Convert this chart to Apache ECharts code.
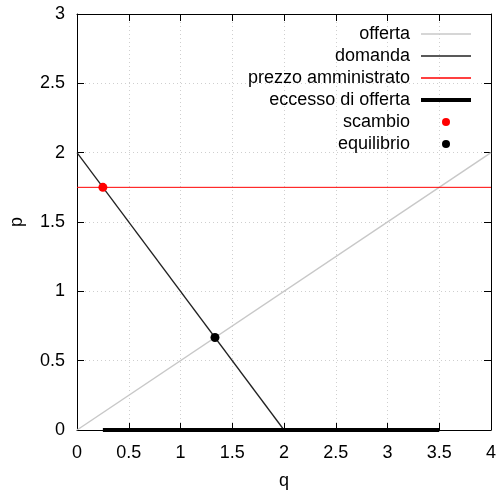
<!DOCTYPE html>
<html>
<head>
<meta charset="utf-8">
<script src="https://cdn.jsdelivr.net/npm/echarts@6/dist/echarts.min.js"></script>
<style>html,body{margin:0;padding:0;background:#fff}#c{width:501px;height:497px}</style>
</head>
<body>
<div id="c"></div>
<script>
// Data
const offerta = [[0, 0], [4, 2]];
const domanda = [[0, 2], [2, 0]];
const prezzoAmministrato = [[0, 1.75], [4, 1.75]];
const eccessoOfferta = [[0.25, 0], [3.5, 0]];
const scambio = [[0.25, 1.75]];
const equilibrio = [[1.333, 0.667]];
const names = ['offerta', 'domanda', 'prezzo amministrato', 'eccesso di offerta', 'scambio', 'equilibrio'];

const FONT = 'Liberation Sans';
const chart = echarts.init(document.getElementById('c'), null, {renderer: 'canvas'});

const legendTops = [25, 47, 69, 91, 113, 135];
const legendIconH = [1.5, 1.5, 1.5, 4, 8, 8];
const legends = names.map((n, i) => {
  const isDot = i >= 4;
  return {
    data: [{name: n, icon: isDot ? 'circle' : 'rect'}],
    right: isDot ? 51 : 30,
    top: legendTops[i],
    padding: 0,
    orient: 'vertical',
    align: 'right',
    itemWidth: isDot ? 8 : 50,
    itemHeight: legendIconH[i],
    selectedMode: false,
    textStyle: {fontFamily: FONT, fontSize: 18, color: '#000', padding: [0, isDot ? 27 : 6, 0, 0]}
  };
});

const grid = {left: 75, right: 10, top: 14, bottom: 67};
const axisCommon = {
  type: 'value',
  axisLine: {show: true, onZero: false, lineStyle: {color: '#000', width: 1}},
  axisTick: {show: true, inside: true, length: 7, lineStyle: {color: '#000'}},
};

chart.setOption({
  animation: false,
  backgroundColor: '#fff',
  grid: grid,
  legend: legends,
  xAxis: [
    Object.assign({}, axisCommon, {
      min: 0, max: 4, interval: 0.5, position: 'bottom',
      name: 'q', nameLocation: 'middle', nameGap: 42,
      nameTextStyle: {fontFamily: FONT, fontSize: 18, color: '#000'},
      axisLabel: {fontFamily: FONT, fontSize: 18, color: '#000', margin: 14},
      splitLine: {show: true, lineStyle: {color: '#cfcfcf', type: [1, 3], width: 1}}
    }),
    Object.assign({}, axisCommon, {
      min: 0, max: 4, interval: 0.5, position: 'top',
      axisLabel: {show: false}, splitLine: {show: false}
    })
  ],
  yAxis: [
    Object.assign({}, axisCommon, {
      min: 0, max: 3, interval: 0.5, position: 'left',
      name: 'p', nameLocation: 'middle', nameGap: 51,
      nameTextStyle: {fontFamily: FONT, fontSize: 18, color: '#000'},
      axisLabel: {fontFamily: FONT, fontSize: 18, color: '#000', margin: 12},
      splitLine: {show: true, lineStyle: {color: '#cfcfcf', type: [1, 3], width: 1}}
    }),
    Object.assign({}, axisCommon, {
      min: 0, max: 3, interval: 0.5, position: 'right',
      axisLabel: {show: false}, splitLine: {show: false}
    })
  ],
  series: [
    {name: names[0], type: 'line', data: offerta, symbol: 'none',
     lineStyle: {color: '#c8c8c8', width: 1.5}, itemStyle: {color: '#c8c8c8'}},
    {name: names[1], type: 'line', data: domanda, symbol: 'none',
     lineStyle: {color: '#222', width: 1.3}, itemStyle: {color: '#222'}},
    {name: names[2], type: 'line', data: prezzoAmministrato, symbol: 'none',
     lineStyle: {color: '#ff0000', width: 1}, itemStyle: {color: '#ff0000'}},
    {name: names[3], type: 'line', data: eccessoOfferta, symbol: 'none', clip: false, z: 5,
     lineStyle: {color: '#000', width: 4, cap: 'butt'}, itemStyle: {color: '#000'}},
    {name: names[4], type: 'scatter', data: scambio, symbol: 'circle', symbolSize: 9, z: 6,
     itemStyle: {color: '#ff0000', opacity: 1}},
    {name: names[5], type: 'scatter', data: equilibrio, symbol: 'circle', symbolSize: 9, z: 6,
     itemStyle: {color: '#000', opacity: 1}}
  ]
});
</script>
</body>
</html>
